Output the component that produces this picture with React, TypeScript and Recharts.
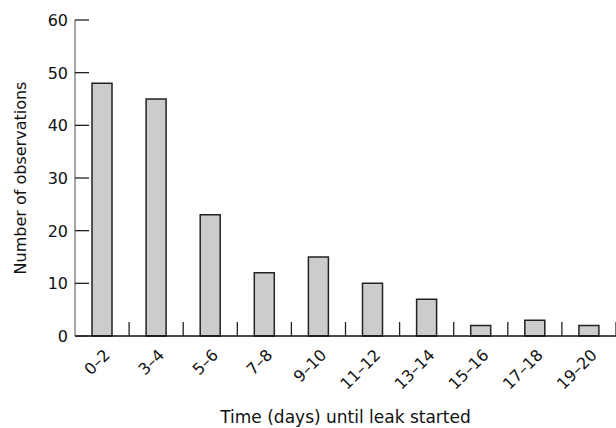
import React from 'react';
import { BarChart, Bar, XAxis, YAxis, Label } from 'recharts';

const categories = ['0–2', '3–4', '5–6', '7–8', '9–10', '11–12', '13–14', '15–16', '17–18', '19–20'];
const counts = [48, 45, 23, 12, 15, 10, 7, 2, 3, 2];
const yTicks = [0, 10, 20, 30, 40, 50, 60];

const data = categories.map((c, i) => ({ range: c, count: counts[i] }));

const W = 616;
const H = 428;
const M = { top: 20, right: 0, bottom: 38, left: 30 };
const Y_AXIS_W = 45;
const X_AXIS_H = 54;
const PLOT_W = W - M.left - M.right - Y_AXIS_W;
const BAND = PLOT_W / categories.length;
const FONT = '"DejaVu Sans", sans-serif';

const YTick = (props: any) => {
  const { x, y, payload } = props;
  return (
    <g>
      <line x1={x} x2={x + 14} y1={y} y2={y} stroke="#222" strokeWidth={1.3} />
      <text x={x - 7} y={y} dy={6} textAnchor="end" fontSize={16} fill="#111" fontFamily={FONT}>
        {payload.value}
      </text>
    </g>
  );
};

const XTick = (props: any) => {
  const { x, y, payload } = props;
  const bx = x + BAND / 2;
  return (
    <g>
      <line x1={bx} x2={bx} y1={y} y2={y - 14} stroke="#222" strokeWidth={1.3} />
      <text
        x={x + 9}
        y={y + 20}
        textAnchor="end"
        fontSize={16}
        fill="#111"
        fontFamily={FONT}
        transform={`rotate(-45 ${x + 9} ${y + 20})`}
      >
        {payload.value}
      </text>
    </g>
  );
};

export default function App() {
  return (
    <div style={{ position: 'absolute', left: 0, top: 0, width: W, height: H, background: '#fff' }}>
      <BarChart width={W} height={H} data={data} margin={M} barSize={20}>
        <XAxis
          dataKey="range"
          height={X_AXIS_H}
          tickSize={0}
          tickMargin={0}
          tick={<XTick />}
          interval={0}
          axisLine={{ stroke: '#111', strokeWidth: 1.5 }}
        >
          <Label
            value="Time (days) until leak started"
            position="insideBottom"
            offset={-33}
            style={{ fontSize: 17, fontFamily: FONT, fill: '#111' }}
          />
        </XAxis>
        <YAxis
          domain={[0, 60]}
          ticks={yTicks}
          width={Y_AXIS_W}
          tickSize={0}
          tickMargin={0}
          tick={<YTick />}
          interval={0}
          axisLine={{ stroke: '#888', strokeWidth: 1.5 }}
        >
          <Label
            value="Number of observations"
            angle={-90}
            position="insideLeft"
            offset={-10}
            style={{ textAnchor: 'middle', fontSize: 16, fontFamily: FONT, fill: '#111' }}
          />
        </YAxis>
        <Bar dataKey="count" fill="#cccccc" stroke="#222" strokeWidth={1.5} isAnimationActive={false} />
      </BarChart>
    </div>
  );
}
